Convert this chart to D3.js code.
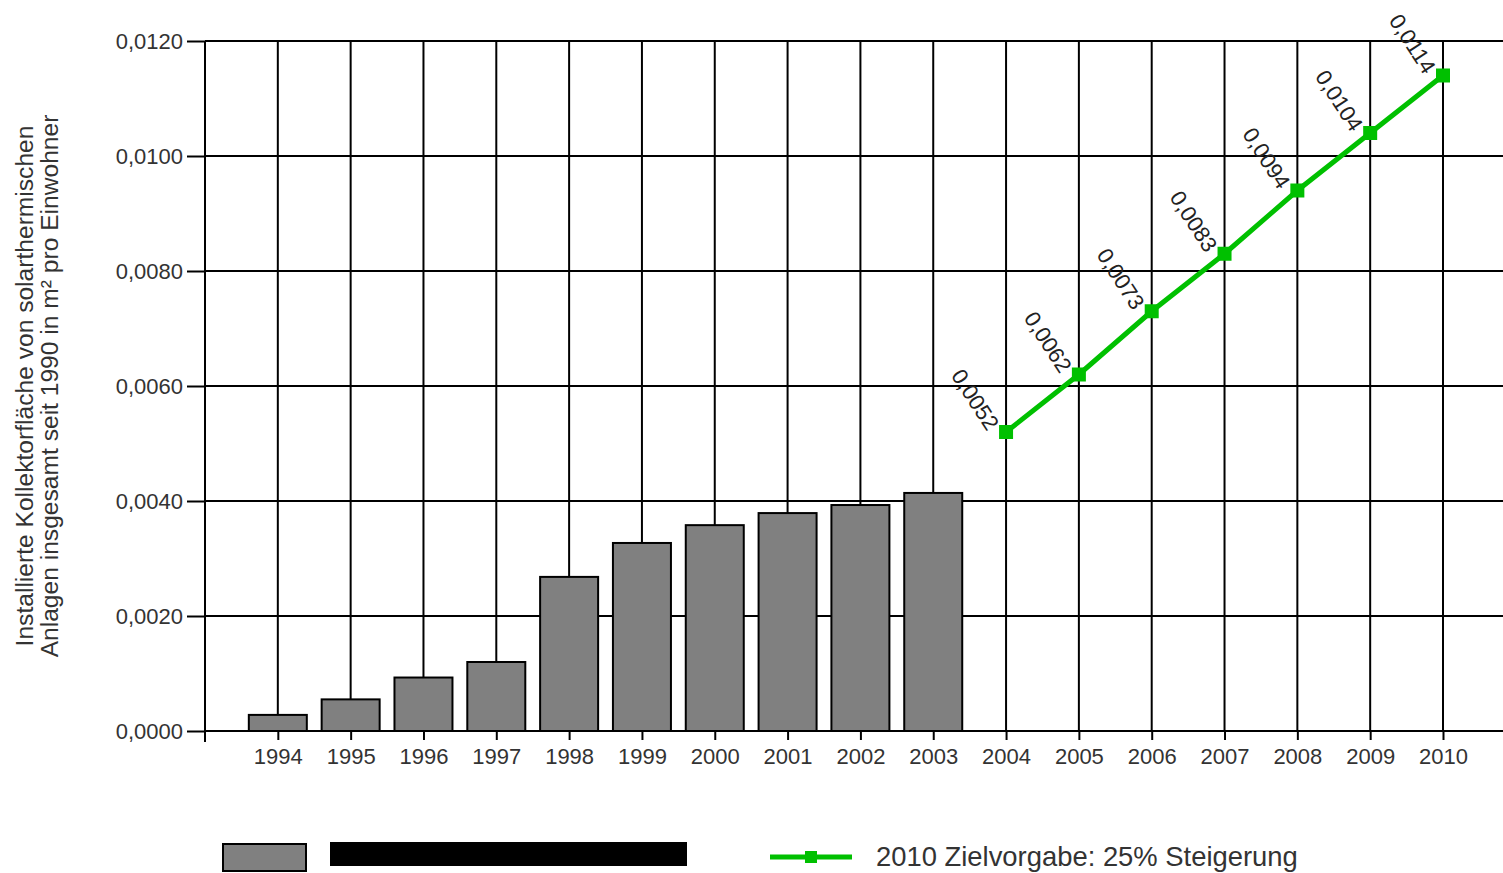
<!DOCTYPE html>
<html>
<head>
<meta charset="utf-8">
<script src="https://cdn.jsdelivr.net/npm/d3@7/dist/d3.min.js"></script>
<style>
  html, body { margin: 0; padding: 0; background: #fff; }
  svg { display: block; }
  text { font-family: "Liberation Sans", Arial, sans-serif; }
</style>
</head>
<body>
<svg id="chart" width="1503" height="873"></svg>
<script>
// Years shown on the x axis
const years = [1994, 1995, 1996, 1997, 1998, 1999, 2000, 2001, 2002, 2003, 2004, 2005, 2006, 2007, 2008, 2009, 2010];

// Installed collector area (m² per inhabitant), actual values
const barYears = [1994, 1995, 1996, 1997, 1998, 1999, 2000, 2001, 2002, 2003];
const barValues = [0.00028, 0.00055, 0.00093, 0.00120, 0.00268, 0.00327, 0.00358, 0.00379, 0.00393, 0.00414];

// Target path up to 2010
const targetYears = [2004, 2005, 2006, 2007, 2008, 2009, 2010];
const targetValues = [0.0052, 0.0062, 0.0073, 0.0083, 0.0094, 0.0104, 0.0114];

// Y axis ticks
const yTicks = [0, 0.002, 0.004, 0.006, 0.008, 0.010, 0.012];

const yTitleLines = [
  "Installierte Kollektorfläche von solarthermischen",
  "Anlagen insgesamt seit 1990 in m² pro Einwohner"
];
const targetLabel = "2010 Zielvorgabe: 25% Steigerung";

const W = 1503, H = 873;
const plotLeft = 205, plotTop = 41, plotBottom = 731;
const svg = d3.select("#chart");

const de = d3.formatLocale({ decimal: ",", thousands: ".", grouping: [3], currency: ["", " €"] });
const fmt4 = de.format(".4f");

const x = d3.scaleLinear().domain([1993, 2010]).range([plotLeft, 1443]);
const y = d3.scaleLinear().domain([0, 0.012]).range([plotBottom, plotTop]);
const barW = 58;

// Horizontal grid lines
svg.append("g")
  .selectAll("line")
  .data(yTicks)
  .join("line")
  .attr("x1", plotLeft).attr("x2", W)
  .attr("y1", d => y(d)).attr("y2", d => y(d))
  .attr("stroke", "#000").attr("stroke-width", 2);

// Vertical grid lines
svg.append("g")
  .selectAll("line")
  .data(years)
  .join("line")
  .attr("x1", d => x(d)).attr("x2", d => x(d))
  .attr("y1", plotTop).attr("y2", plotBottom)
  .attr("stroke", "#000").attr("stroke-width", 2);

// Y axis
const yAxis = svg.append("g")
  .attr("transform", `translate(${plotLeft},0)`)
  .call(d3.axisLeft(y).tickValues(yTicks).tickSize(18).tickPadding(4).tickFormat(fmt4));
yAxis.select(".domain").remove();
yAxis.selectAll(".tick line").attr("stroke", "#000").attr("stroke-width", 2);
yAxis.selectAll(".tick text")
  .attr("font-size", 22).attr("fill", "#333")
  .style("font-family", "'Liberation Sans', Arial, sans-serif");
svg.append("line")
  .attr("x1", plotLeft).attr("x2", plotLeft)
  .attr("y1", plotTop).attr("y2", plotBottom + 11)
  .attr("stroke", "#000").attr("stroke-width", 2);

// X axis
const xAxis = svg.append("g")
  .attr("transform", `translate(0,${plotBottom})`)
  .call(d3.axisBottom(x).tickValues(years).tickSize(9).tickPadding(8).tickFormat(d => String(d)));
xAxis.select(".domain").remove();
xAxis.selectAll(".tick line").attr("stroke", "#000").attr("stroke-width", 2);
xAxis.selectAll(".tick text")
  .attr("font-size", 22).attr("fill", "#333")
  .style("font-family", "'Liberation Sans', Arial, sans-serif");

// Bars
svg.append("g")
  .selectAll("rect")
  .data(barYears.map((yr, i) => ({ yr, v: barValues[i] })))
  .join("rect")
  .attr("x", d => x(d.yr) - barW / 2)
  .attr("width", barW)
  .attr("y", d => y(d.v))
  .attr("height", d => y(0) - y(d.v))
  .attr("fill", "#808080")
  .attr("stroke", "#000")
  .attr("stroke-width", 2);

// Baseline drawn over the bars
svg.append("line")
  .attr("x1", plotLeft).attr("x2", W)
  .attr("y1", y(0)).attr("y2", y(0))
  .attr("stroke", "#000").attr("stroke-width", 2);

// Target line
const green = "#00c000";
const pts = targetYears.map((yr, i) => ({ yr, v: targetValues[i] }));
svg.append("path")
  .datum(pts)
  .attr("fill", "none")
  .attr("stroke", green)
  .attr("stroke-width", 5)
  .attr("d", d3.line().x(d => x(d.yr)).y(d => y(d.v)));
svg.append("g")
  .selectAll("rect")
  .data(pts)
  .join("rect")
  .attr("x", d => x(d.yr) - 7).attr("y", d => y(d.v) - 7)
  .attr("width", 14).attr("height", 14)
  .attr("fill", green);

// Rotated value labels
svg.append("g")
  .selectAll("text")
  .data(pts)
  .join("text")
  .attr("transform", d => `translate(${x(d.yr) - 19},${y(d.v)}) rotate(57)`)
  .attr("text-anchor", "end")
  .attr("font-size", 22)
  .attr("fill", "#222")
  .text(d => fmt4(d.v));

// Y axis title
const yt = svg.append("text")
  .attr("transform", `translate(0,386) rotate(-90)`)
  .attr("text-anchor", "middle")
  .attr("font-size", 24.6)
  .attr("fill", "#333");
yTitleLines.forEach((t, i) => {
  yt.append("tspan").attr("x", 0).attr("y", 33 + i * 25).text(t);
});

// Legend
svg.append("rect")
  .attr("x", 223).attr("y", 844).attr("width", 83).attr("height", 27)
  .attr("fill", "#808080").attr("stroke", "#000").attr("stroke-width", 2);
svg.append("rect")
  .attr("x", 330).attr("y", 842).attr("width", 357).attr("height", 24)
  .attr("fill", "#000");
svg.append("line")
  .attr("x1", 770).attr("x2", 852).attr("y1", 857).attr("y2", 857)
  .attr("stroke", green).attr("stroke-width", 5);
svg.append("rect")
  .attr("x", 805).attr("y", 851).attr("width", 12).attr("height", 12)
  .attr("fill", green);
svg.append("text")
  .attr("x", 876).attr("y", 866)
  .attr("font-size", 27.4)
  .attr("fill", "#333")
  .text(targetLabel);
</script>
</body>
</html>
